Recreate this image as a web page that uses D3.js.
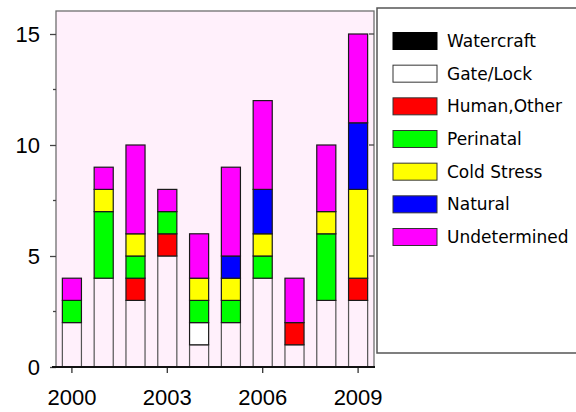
<!DOCTYPE html>
<html>
<head>
<meta charset="utf-8">
<script src="https://cdn.jsdelivr.net/npm/d3@7"></script>
<style>
  html, body { margin: 0; padding: 0; background: #ffffff; }
  svg { display: block; }
</style>
</head>
<body>
<svg id="chart" width="576" height="412"></svg>
<script>
// ---- data ----
const years = ["2000","2001","2002","2003","2004","2005","2006","2007","2008","2009"];
const seriesNames = ["Watercraft","Gate/Lock","Human,Other","Perinatal","Cold Stress","Natural","Undetermined"];
const seriesColors = ["#000000","#ffffff","#ff0000","#00ff00","#ffff00","#0000ff","#ff00ff"];
const watercraft   = [2,4,3,5,1,2,4,1,3,3];
const gateLock     = [0,0,0,0,1,0,0,0,0,0];
const humanOther   = [0,0,1,1,0,0,0,1,0,1];
const perinatal    = [1,3,1,1,1,1,1,0,3,0];
const coldStress   = [0,1,1,0,1,1,1,0,1,4];
const natural      = [0,0,0,0,0,1,2,0,0,3];
const undetermined = [1,1,4,1,2,4,4,2,3,4];
const yTickValues  = [0,5,10,15];
const yMinorTicks  = [2.5,7.5,12.5];
const xTickLabels  = ["2000","2003","2006","2009"];

const seriesValues = [watercraft, gateLock, humanOther, perinatal, coldStress, natural, undetermined];

const table = years.map((yr, i) => {
  const row = { year: yr };
  seriesNames.forEach((s, k) => { row[s] = seriesValues[k][i]; });
  return row;
});

const svg = d3.select("#chart");
const plot = { left: 56, right: 374, top: 11, bottom: 367 };

const x = d3.scaleBand().domain(years).range([plot.left, plot.right])
  .paddingInner(0.4).paddingOuter(0.2);
const y = d3.scaleLinear().domain([0, 15]).range([367, 34]);

// plot background
svg.append("rect")
  .attr("x", plot.left).attr("y", plot.top)
  .attr("width", plot.right - plot.left).attr("height", plot.bottom - plot.top)
  .attr("fill", "#fff0fb").attr("stroke", "#6f6f6f").attr("stroke-width", 1.3);

// stacked bars
const stack = d3.stack().keys(seriesNames)(table);
// Watercraft segments render without fill in the reference
const barFill = (k) => k === 0 ? "none" : seriesColors[k];
stack.forEach((layer, k) => {
  svg.append("g").selectAll("rect")
    .data(layer.filter(d => d[1] > d[0]))
    .join("rect")
    .attr("x", d => x(d.data.year))
    .attr("width", x.bandwidth())
    .attr("y", d => y(d[1]))
    .attr("height", d => y(d[0]) - y(d[1]))
    .attr("fill", barFill(k))
    .attr("stroke", k === 0 ? "#555" : "#1a1a1a")
    .attr("stroke-width", 1.2);
});

// y axis (left, outward ticks)
const yAxis = d3.axisLeft(y).tickValues(yTickValues).tickSize(6).tickPadding(10).tickFormat(d3.format("d"));
const gy = svg.append("g").attr("transform", `translate(${plot.left},0)`).call(yAxis);
gy.select(".domain").remove();
gy.selectAll(".tick line").attr("stroke", "#444").attr("stroke-width", 1.3);
gy.selectAll(".tick text").attr("font-family", "Liberation Sans, Arial, sans-serif")
  .attr("font-size", 22).attr("fill", "#000");
svg.append("g").selectAll("line").data(yMinorTicks).join("line")
  .attr("x1", plot.left - 3).attr("x2", plot.left)
  .attr("y1", d => y(d)).attr("y2", d => y(d))
  .attr("stroke", "#444").attr("stroke-width", 1.3);
// right inward ticks
svg.append("g").selectAll("line").data(yTickValues.filter(v => v > 0)).join("line")
  .attr("x1", plot.right - 5).attr("x2", plot.right)
  .attr("y1", d => y(d)).attr("y2", d => y(d))
  .attr("stroke", "#444").attr("stroke-width", 1.3);

// x axis
const xAxis = d3.axisBottom(x).tickValues(xTickLabels).tickSize(6).tickPadding(16);
const gx = svg.append("g").attr("transform", `translate(0,${plot.bottom})`).call(xAxis);
gx.select(".domain").remove();
gx.selectAll(".tick line").attr("stroke", "#333").attr("stroke-width", 1.3);
gx.selectAll(".tick text").attr("font-family", "Liberation Sans, Arial, sans-serif")
  .attr("font-size", 22).attr("fill", "#000");
svg.append("line")
  .attr("x1", plot.left - 4).attr("x2", plot.right + 1)
  .attr("y1", plot.bottom).attr("y2", plot.bottom)
  .attr("stroke", "#111").attr("stroke-width", 2);

// legend
const leg = svg.append("g");
leg.append("rect")
  .attr("x", 377).attr("y", 8).attr("width", 210).attr("height", 345)
  .attr("fill", "#ffffff").attr("stroke", "#555").attr("stroke-width", 1.5);
const rowY = d3.scalePoint().domain(seriesNames).range([41, 237]);
const items = leg.selectAll("g.item").data(seriesNames).join("g").attr("class", "item")
  .attr("transform", d => `translate(0,${rowY(d)})`);
items.append("rect")
  .attr("x", 393).attr("y", -8.5).attr("width", 44).attr("height", 17)
  .attr("fill", (d, i) => seriesColors[i])
  .attr("stroke", (d, i) => i === 0 ? "#000" : "#333").attr("stroke-width", 1);
items.append("text")
  .attr("x", 447).attr("y", 0).attr("dy", "0.36em")
  .attr("font-family", "DejaVu Sans, sans-serif").attr("font-size", 17)
  .attr("fill", "#000")
  .text(d => d);
</script>
</body>
</html>
